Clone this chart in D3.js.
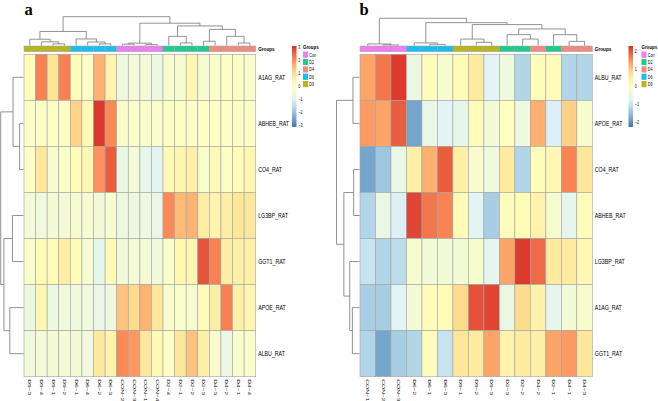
<!DOCTYPE html>
<html><head><meta charset="utf-8">
<script src="https://cdn.jsdelivr.net/npm/d3@7"></script>
<style>body{margin:0;background:#fff}svg{display:block;font-family:"Liberation Sans",Arial,sans-serif}</style>
</head><body><svg id="c" width="658" height="401"></svg>
<script>
// ---------- DATA ----------
const paletteRdYlBu = ["#4575B4","#91BFDB","#E0F3F8","#FFFFBF","#FEE090","#FC8D59","#D73027"];
const groupNames = ["Con","D2","D4","D6","D9"];
const groupColors = ["#F07CF2","#1DCB8D","#F5887E","#16BFEF","#B9B51C"];

// Panel a
const colsA = ["D9-3","D9-4","D9-1","D9-2","D6-1","D6-4","D6-2","D6-3","CON-2","CON-3","CON-1","CON-4","D2-4","D2-1","D2-2","D2-3","D4-3","D4-2","D4-1","D4-4"];
const groupsA = ["D9","D9","D9","D9","D6","D6","D6","D6","Con","Con","Con","Con","D2","D2","D2","D2","D4","D4","D4","D4"];
const rowsA = ["A1AG_RAT","ABHEB_RAT","CO4_RAT","LG3BP_RAT","GGT1_RAT","APOE_RAT","ALBU_RAT"];
const valuesA = [
  [0.1,2.2,0.9,2.2,0.1,-0.1,1.6,0.4,-0.6,-0.4,-0.4,-0.6,-0.3,-0.3,0.3,-0.3,-0.2,-0.1,-0.1,-0.2],
  [-0.1,-0.1,-0.1,-0.1,1.2,0.2,3.0,2.1,-0.2,-0.2,-0.2,-0.2,-0.1,-0.1,-0.1,-0.1,-0.1,-0.1,-0.1,-0.1],
  [-0.1,0.8,-0.3,-0.2,0.1,0.3,2.0,2.6,-0.7,-0.4,-0.8,-0.9,0.2,0.3,0.5,-0.2,0.2,-0.1,0.1,0.3],
  [-0.4,-0.5,-0.4,-0.4,-0.3,-0.3,-0.4,-0.3,-0.6,-0.6,-0.6,-0.7,2.1,1.5,1.6,0.6,0.4,0.6,0.8,0.8],
  [-0.2,0.2,0.1,0.6,0.1,-0.3,-0.8,0.2,-0.5,-0.4,-0.4,-0.5,-0.2,0.3,0.3,2.7,2.2,0.6,0.5,0.5],
  [-0.6,0.3,-0.6,-0.5,-0.5,-0.5,-0.7,-0.6,1.4,1.1,1.6,0.8,-0.3,-0.2,-0.3,0.1,0.6,2.2,0.5,0.3],
  [-0.5,-0.4,-0.4,-0.4,-0.4,-0.5,0.7,0.4,2.1,1.9,0.8,0.2,-0.1,0.8,1.4,0.5,-0.3,-0.6,-0.2,-0.2]
];
const legendTicksA = [3,2,1,0,-1,-2,-3];
const legendMaxA = 3.1;
// hclust-style merges: negative = leaf (1-based display order), positive = earlier merge; [left, right, height]
const colMergeA = [[-3,-4,0.6],[-2,1,1.3],[-1,2,2.2],[-7,-8,0.6],[-6,4,1.25],[-5,5,2.3],[3,6,4.9],
  [-9,-10,0.5],[-11,-12,0.35],[8,9,0.85],[-14,-15,0.9],[-13,11,3.2],[-16,-17,1.5],[-19,-20,0.9],
  [-18,14,3.2],[13,15,5.6],[12,16,6.8],[10,17,7.75],[7,18,10]];
const rowMergeA = [[-2,-3,1.7],[-1,1,4.6],[-4,-5,4.85],[-6,-7,6.0],[3,4,8.6],[2,5,10]];

// Panel b
const colsB = ["CON-1","CON-2","CON-3","D6-2","D6-1","D6-3","D9-1","D9-2","D9-3","D2-3","D2-2","D4-2","D2-1","D4-1","D4-3"];
const groupsB = ["Con","Con","Con","D6","D6","D6","D9","D9","D9","D2","D2","D4","D2","D4","D4"];
const rowsB = ["ALBU_RAT","APOE_RAT","CO4_RAT","ABHEB_RAT","LG3BP_RAT","A1AG_RAT","GGT1_RAT"];
const valuesB = [
  [1.3,1.7,2.2,-0.5,0.1,-0.2,0.1,0.5,-0.7,-0.4,-1.2,0.1,0.1,-1.2,-1.2],
  [1.4,1.3,1.9,-1.8,-0.5,-0.7,-0.6,0.1,-0.3,0.0,-0.4,1.2,-0.8,0.9,-0.2],
  [-1.8,-1.4,-0.5,0.4,1.2,1.9,0.4,-0.2,-0.4,0.5,-1.2,0.1,0.2,1.6,0.6],
  [-1.2,-0.5,-0.8,2.1,1.7,1.6,0.1,-0.7,-1.3,0.1,0.1,0.3,-0.2,-0.6,0.1],
  [-1.0,-1.2,-1.1,-0.2,-0.3,-0.3,-0.3,-0.2,-0.6,1.3,2.2,1.8,0.5,0.5,0.2],
  [-1.3,-1.3,-0.7,-0.3,0.1,0.1,0.8,2.0,2.1,-0.5,0.8,0.3,-0.6,-0.3,-0.2],
  [-1.2,-1.8,-1.3,-1.2,0.1,-1.0,0.6,0.5,1.3,0.3,0.5,0.4,1.3,1.4,0.6]
];
const legendTicksB = [2,1,0,-1,-2];
const legendMaxB = 2.28;
const colMergeB = [[-2,-3,0.25],[-1,1,0.6],[-5,-6,0.45],[-4,3,1.0],[-8,-9,1.2],[-7,5,2.4],
  [-11,-12,2.4],[-10,7,4.0],[-14,-15,1.55],[-13,9,4.0],[8,10,6.1],[6,11,7.7],[4,12,8.4],[2,13,10]];
const rowMergeB = [[-1,-2,2.85],[-3,-4,2.55],[-6,-7,3.1],[-5,3,4.25],[2,4,6.8],[1,5,10]];

// ---------- DRAW ----------
const svg = d3.select("#c");
const groupColor = d3.scaleOrdinal().domain(groupNames).range(groupColors);
let gradId = 0;

// text squeezed horizontally like the reference
function sqText(g, x, y, txt, size, sx, bold) {
  return g.append("text").attr("transform", `translate(${x},${y}) scale(${sx},1)`)
    .attr("font-size", size).attr("font-weight", bold ? "bold" : null).text(txt);
}

function dendro(g, merges, leafPos, hScale, horizontal) {
  const pos = [];
  const get = k => k < 0 ? [leafPos(-k - 1), 0] : pos[k - 1];
  merges.forEach(([l, r, h]) => {
    const a = get(l), b = get(r);
    pos.push([(a[0] + b[0]) / 2, h]);
    const d = !horizontal
      ? `M${a[0]},${hScale(a[1])}V${hScale(h)}H${b[0]}V${hScale(b[1])}`
      : `M${hScale(a[1])},${a[0]}H${hScale(h)}V${b[0]}H${hScale(b[1])}`;
    g.append("path").attr("d", d).attr("fill", "none").attr("stroke", "#777").attr("stroke-width", 0.8);
  });
}

function panel(o) {
  const g = svg.append("g");
  const x = d3.scaleBand().domain(o.cols).range([o.x0, o.x1]);
  const y = d3.scaleBand().domain(o.rows).range([54.3, 376.7]);
  const color = d3.scaleLinear()
    .domain(paletteRdYlBu.map((c, i) => -o.max + i * (2 * o.max) / 6))
    .range(paletteRdYlBu).clamp(true);

  o.rows.forEach((r, i) => {
    g.selectAll(null).data(o.values[i]).join("rect")
      .attr("x", (d, j) => x(o.cols[j])).attr("y", y(r))
      .attr("width", x.bandwidth()).attr("height", y.bandwidth())
      .attr("fill", d => color(d)).attr("stroke", "#a3a3a3").attr("stroke-width", 0.6);
  });
  g.selectAll(null).data(o.groups).join("rect")
    .attr("x", (d, j) => x(o.cols[j])).attr("y", 46).attr("width", x.bandwidth()).attr("height", 5.7)
    .attr("fill", d => groupColor(d)).attr("stroke", "#a3a3a3").attr("stroke-width", 0.5);
  sqText(g, o.x1 + 2.5, 51, "Groups", 5.8, 0.8, true);
  o.rows.forEach(r => sqText(g, o.x1 + 2.5, y(r) + y.bandwidth() / 2 + 2.6, r, 7.5, 0.7));
  g.selectAll(null).data(o.cols).join("text")
    .attr("transform", d => `translate(${x(d) + x.bandwidth() / 2},379.3) rotate(90) scale(1,0.62)`)
    .attr("dy", "0.35em").attr("font-size", 6.6).text(d => d.replace("-", "\u2212"));

  dendro(g, o.colMerge, i => x(o.cols[i]) + x.bandwidth() / 2,
    d3.scaleLinear().domain([0, 10]).range([45.6, o.colTop]), false);
  dendro(g, o.rowMerge, i => y(o.rows[i]) + y.bandwidth() / 2,
    d3.scaleLinear().domain([0, 10]).range([o.x0 - 0.5, o.rowLeft]), true);

  g.append("text").attr("x", o.letterX).attr("y", o.letterY).attr("font-family", "Liberation Serif, serif")
    .attr("font-weight", "bold").attr("font-size", 16.5).text(o.letter);

  const id = "grad" + (gradId++);
  const grad = svg.append("defs").append("linearGradient").attr("id", id)
    .attr("x1", 0).attr("y1", 1).attr("x2", 0).attr("y2", 0);
  d3.range(0, 1.0001, 0.05).forEach(t => grad.append("stop").attr("offset", t)
    .attr("stop-color", color(-o.max + t * 2 * o.max)));
  const ly = d3.scaleLinear().domain([-o.max, o.max]).range([127, 46]);
  g.append("rect").attr("x", o.legX).attr("y", 46).attr("width", 4.5).attr("height", 81).attr("fill", `url(#${id})`);
  o.ticks.forEach(d => sqText(g, o.legX + 6.3, ly(d) + 1.8, d < 0 ? "\u2212" + (-d) : String(d), 5.2, 0.7));

  sqText(g, o.gx, 49.3, "Groups", 5.5, 0.8, true);
  groupNames.forEach((n, i) => {
    g.append("rect").attr("x", o.gx).attr("y", 51.6 + i * 7.35).attr("width", 5).attr("height", 6.2).attr("fill", groupColor(n));
    sqText(g, o.gx + 6.3, 56.6 + i * 7.35, n, 5.2, 0.7);
  });
}

panel({cols: colsA, groups: groupsA, rows: rowsA, values: valuesA, max: legendMaxA, ticks: legendTicksA,
  colMerge: colMergeA, rowMerge: rowMergeA, x0: 24, x1: 255.7, colTop: 16.7, rowLeft: 0.7,
  letter: "a", letterX: 24.5, letterY: 15, legX: 292, gx: 303});
panel({cols: colsB, groups: groupsB, rows: rowsB, values: valuesB, max: legendMaxB, ticks: legendTicksB,
  colMerge: colMergeB, rowMerge: rowMergeB, x0: 360, x1: 592.3, colTop: 18.3, rowLeft: 336.5,
  letter: "b", letterX: 359.5, letterY: 15.2, legX: 628.5, gx: 641.5});
</script></body></html>
